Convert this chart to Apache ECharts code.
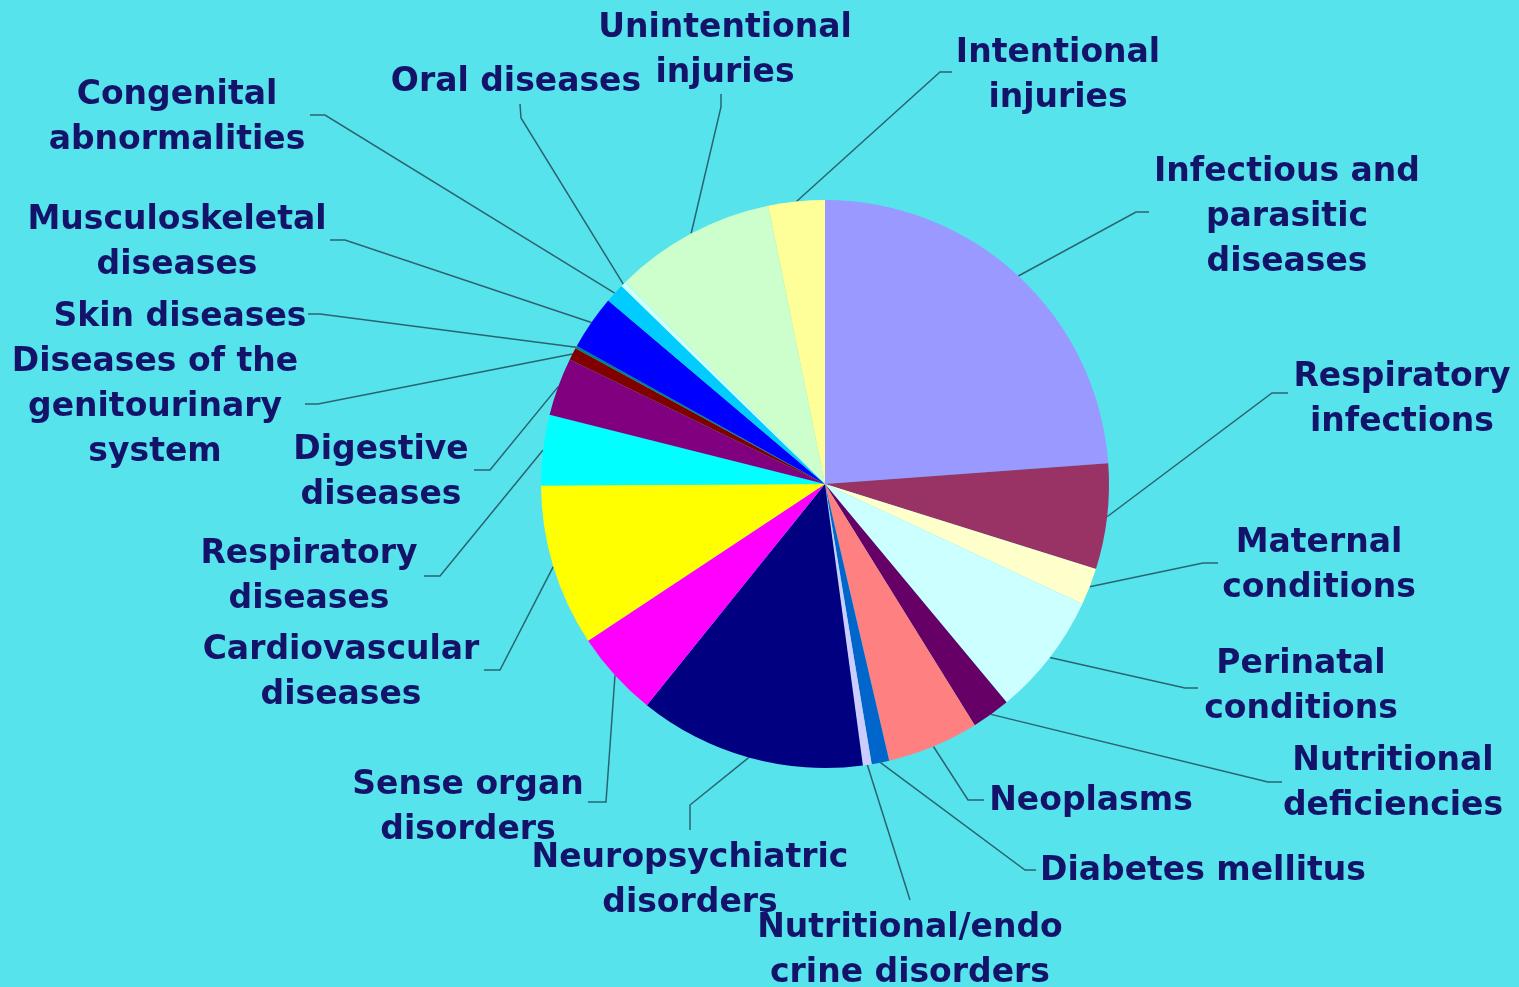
<!DOCTYPE html>
<html>
<head>
<meta charset="utf-8">
<script src="https://cdn.jsdelivr.net/npm/echarts@6/dist/echarts.min.js"></script>
<style>
html,body{margin:0;padding:0;background:#56E3EC;}
#chart{width:1519px;height:987px;}
</style>
</head>
<body>
<div id="chart"></div>
<script>
// Categories (clockwise from 12 o'clock)
const categories = [
  "Infectious and\nparasitic\ndiseases",
  "Respiratory\ninfections",
  "Maternal\nconditions",
  "Perinatal\nconditions",
  "Nutritional\ndeficiencies",
  "Neoplasms",
  "Diabetes mellitus",
  "Nutritional/endo\ncrine disorders",
  "Neuropsychiatric\ndisorders",
  "Sense organ\ndisorders",
  "Cardiovascular\ndiseases",
  "Respiratory\ndiseases",
  "Digestive\ndiseases",
  "Diseases of the\ngenitourinary\nsystem",
  "Skin diseases",
  "Musculoskeletal\ndiseases",
  "Congenital\nabnormalities",
  "Oral diseases",
  "Unintentional\ninjuries",
  "Intentional\ninjuries"
];
// Share of total (%)
const shares = [23.8, 6.0, 2.1, 7.0, 2.2, 5.2, 1.0, 0.5, 12.9, 4.9, 9.2, 4.0, 3.3, 0.7, 0.15, 3.1, 1.1, 0.3, 9.2, 3.2];
const sliceColors = ["#9999FF","#993366","#FFFFCC","#CCFFFF","#660066","#FF8080","#0066CC","#CCCCFF","#000080","#FF00FF",
                     "#FFFF00","#00FFFF","#800080","#800000","#008080","#0000FF","#00CCFF","#CCFFFF","#CCFFCC","#FFFF99"];

// Label layout (text block centre) and leader-line bend / end points
const labelCenters = [[1287,217],[1402,400],[1319,566],[1301,687],[1393,784],[1091,801],[1203,871],[910,951],[690,881],[468,808],
                      [341,673],[309,577],[381,473],[155,407],[180,317],[177,243],[177,118],[516,82],[725,51],[1058,76]];
const lineBends = [[1136,212],[1272,393],[1203,563],[1185,688],[1268,782],[968,800],[1025,870],[910,900],[690,805],[606,802],
                   [500,670],[440,576],[490,470],[318,404],[320,314],[345,240],[325,115],[521,118],[721,107],[940,72]];
const lineEnds = [[1149,212],[1288,393],[1218,563],[1198,688],[1282,782],[984,800],[1036,870],[910,900],[690,830],[588,802],
                  [484,670],[424,576],[474,470],[305,404],[308,314],[330,240],[310,115],[520,104],[721,94],[952,72]];

const chart = echarts.init(document.getElementById('chart'), null, {renderer: 'canvas'});
chart.setOption({
  backgroundColor: '#56E3EC',
  animation: false,
  series: [{
    type: 'pie',
    center: [825, 484],
    radius: 284,
    startAngle: 90,
    clockwise: true,
    avoidLabelOverlap: false,
    itemStyle: { borderWidth: 0 },
    label: {
      show: true,
      position: 'outside',
      formatter: '{b}',
      color: '#13136A',
      fontFamily: 'DejaVu Sans',
      fontWeight: 'bold',
      fontSize: 33,
      lineHeight: 45,
      align: 'center'
    },
    labelLine: {
      show: true,
      length: 20,
      length2: 10,
      smooth: false,
      lineStyle: { color: '#2A6470', width: 1.5 }
    },
    labelLayout: function (params) {
      const i = params.dataIndex;
      const pts = params.labelLinePoints;
      const start = pts && pts[0] ? pts[0] : lineBends[i];
      return {
        x: labelCenters[i][0],
        y: labelCenters[i][1],
        align: 'center',
        verticalAlign: 'middle',
        labelLinePoints: [start, lineBends[i], lineEnds[i]]
      };
    },
    emphasis: { disabled: true },
    data: categories.map((n, i) => ({ name: n, value: shares[i], itemStyle: { color: sliceColors[i] } }))
  }]
});
</script>
</body>
</html>
